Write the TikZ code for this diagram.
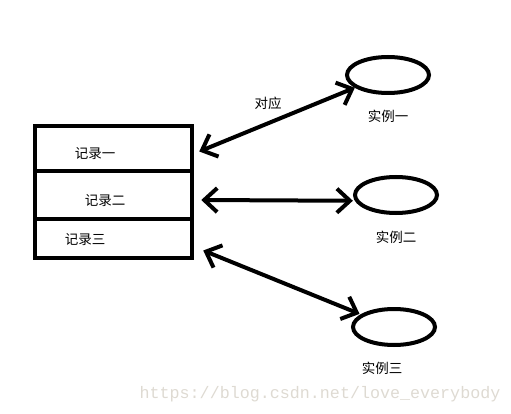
\documentclass[tikz,border=0pt]{standalone}
\usepackage{fontspec}
\usepackage{tikz}
\usetikzlibrary{arrows.meta,positioning,shapes.geometric}
\newfontfamily\cjk{Noto Sans CJK SC}
\newfontfamily\wmfont{Liberation Mono}
\definecolor{wmgray}{RGB}{222,218,210}
\tikzset{
    row/.style={draw, line width=4.5pt, minimum width=157pt, inner sep=0pt},
    inst/.style={draw, ellipse, line width=4pt, minimum width=82pt, minimum height=36pt, inner sep=0pt},
    lbl/.style={font=\cjk\fontsize{13.5}{15}\selectfont},
    conn/.style={line width=4pt, {Straight Barb[length=13pt,width=24pt]}-{Straight Barb[length=13pt,width=24pt]}}
}

\begin{document}
\begin{tikzpicture}[x=1pt, y=-1pt]
    \useasboundingbox (0,0) rectangle (511,414);

                \node[row, minimum height=45pt] (rec1) at (113.5,148.5) {};
                \node[row, minimum height=48pt] (rec2) at (113.5,195) {};
                \node[row, minimum height=39pt] (rec3) at (113.5,238.5) {};

                \node[lbl] (t1) at (95,154) {记录一};
                \node[lbl] (t2) at (105,201) {记录二};
                \node[lbl] (t3) at (85,240) {记录三};

                \node[inst] (e1) at (388,75) {};
                \node[inst] (e2) at (396,195) {};
                \node[inst] (e3) at (394,327) {};

                \node[lbl, below=12pt of e1] (s1) {实例一};
                \node[lbl, below=13pt of e2] (s2) {实例二};
                \node[lbl, below=12pt of e3, xshift=-12pt] (s3) {实例三};

                \draw[conn] ([xshift=5pt,yshift=-3pt]rec1.east) -- (e1.201);
                \draw[conn] ([xshift=7pt,yshift=-5pt]rec2.east) -- ([xshift=-2pt]e2.188);
                \draw[conn] ([xshift=9pt,yshift=-12pt]rec3.east) -- ([xshift=-2pt]e3.158);

                \node[lbl] (corr) at (268,103) {对应};

                \node[font=\wmfont\fontsize{16.7}{18}\selectfont, text=wmgray] (wm) at (320,394) {https://blog.csdn.net/love\_everybody};

\end{tikzpicture}
\end{document}
